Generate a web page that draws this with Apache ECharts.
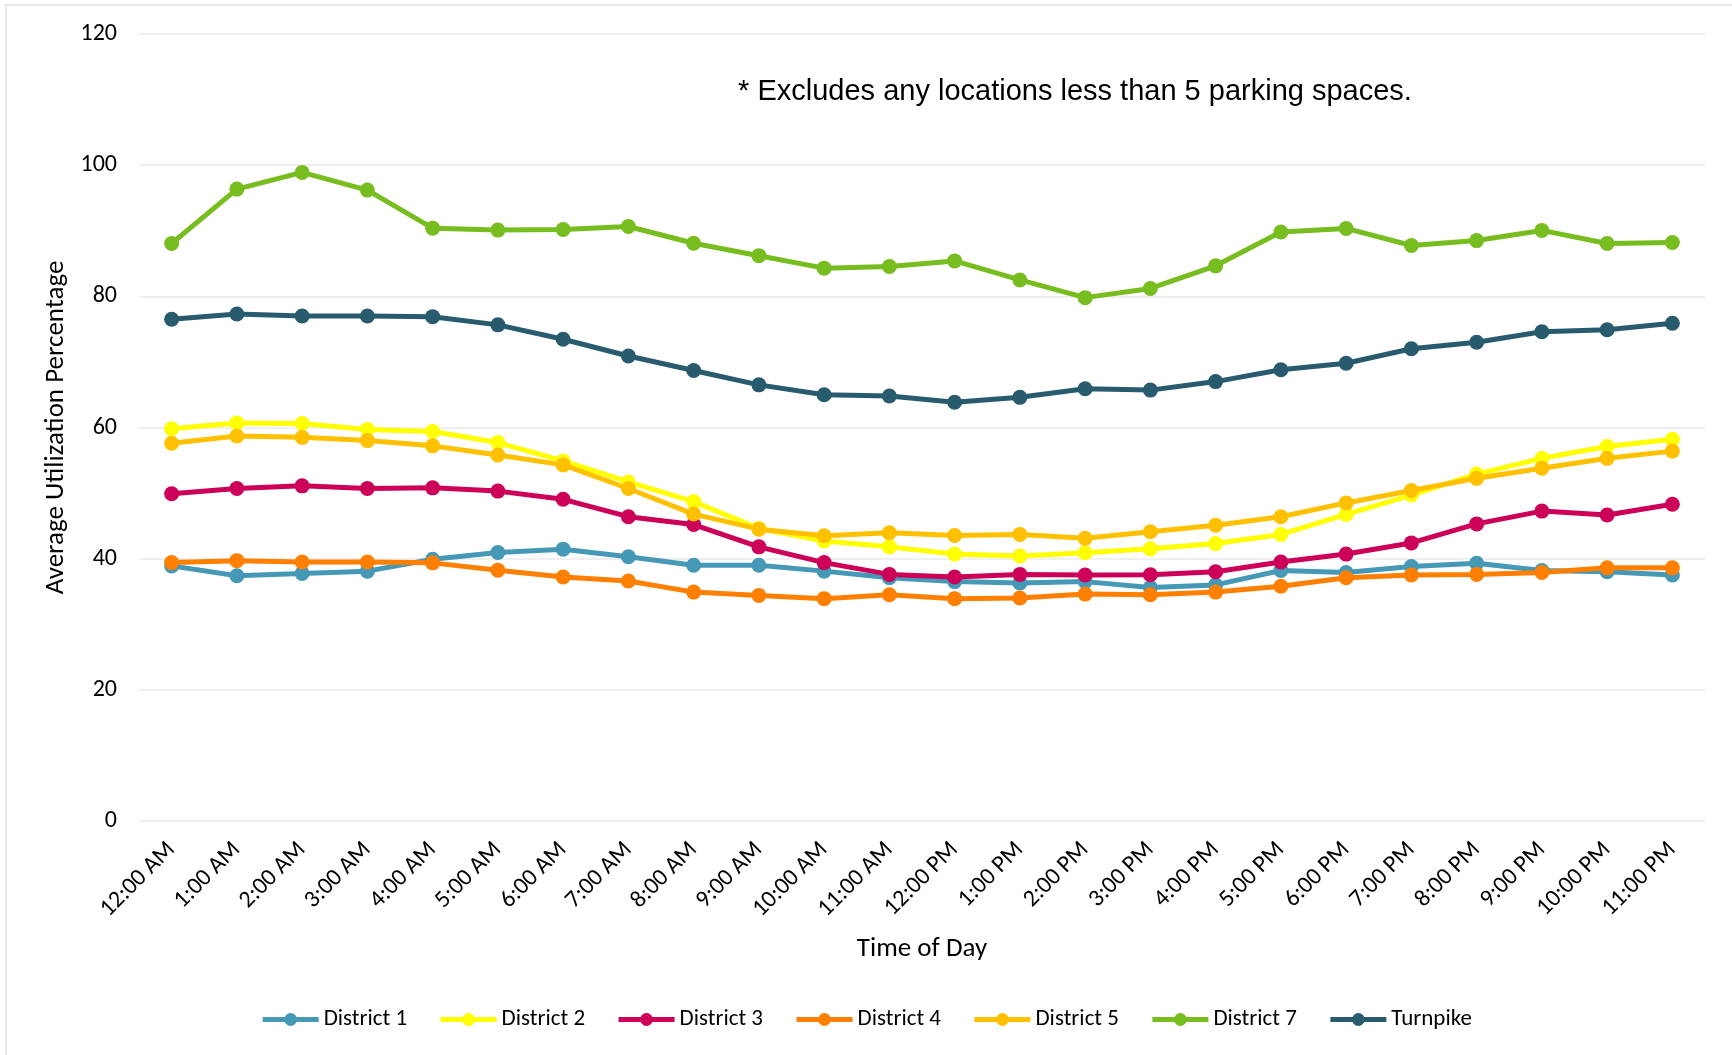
<!DOCTYPE html>
<html>
<head>
<meta charset="utf-8">
<title>Average Utilization by Time of Day</title>
<script src="https://cdn.jsdelivr.net/npm/echarts@6/dist/echarts.min.js"></script>
<style>
  html, body { margin: 0; padding: 0; background: #fff; }
  #chart { width: 1732px; height: 1055px; }
</style>
</head>
<body>
<div id="chart"></div>
<script>
// hour categories
const hours = [
  '12:00 AM', '1:00 AM', '2:00 AM', '3:00 AM', '4:00 AM', '5:00 AM',
  '6:00 AM', '7:00 AM', '8:00 AM', '9:00 AM', '10:00 AM', '11:00 AM',
  '12:00 PM', '1:00 PM', '2:00 PM', '3:00 PM', '4:00 PM', '5:00 PM',
  '6:00 PM', '7:00 PM', '8:00 PM', '9:00 PM', '10:00 PM', '11:00 PM'
];

// average utilization %
const district1 = [38.9, 37.4, 37.75, 38.1, 39.9, 40.95, 41.45, 40.3, 39.0, 39.0, 38.1, 37.1,
  36.5, 36.3, 36.5, 35.6, 36.0, 38.2, 37.9, 38.8, 39.3, 38.2, 38.0, 37.5];
const district2 = [59.8, 60.7, 60.6, 59.7, 59.4, 57.7, 54.9, 51.7, 48.7, 44.6, 42.7, 41.8,
  40.7, 40.4, 40.9, 41.5, 42.3, 43.7, 46.75, 49.7, 52.9, 55.3, 57.1, 58.2];
const district3 = [49.9, 50.7, 51.1, 50.7, 50.8, 50.3, 49.05, 46.4, 45.2, 41.8, 39.4, 37.6,
  37.2, 37.6, 37.5, 37.55, 38.0, 39.5, 40.7, 42.4, 45.3, 47.25, 46.65, 48.3];
const district4 = [39.4, 39.7, 39.5, 39.5, 39.36, 38.25, 37.2, 36.6, 34.9, 34.4, 33.9, 34.5,
  33.9, 34.0, 34.6, 34.5, 34.9, 35.8, 37.1, 37.5, 37.6, 37.9, 38.6, 38.6];
const district5 = [57.6, 58.7, 58.5, 58.0, 57.2, 55.8, 54.3, 50.7, 46.8, 44.5, 43.5, 43.95,
  43.55, 43.7, 43.1, 44.1, 45.1, 46.4, 48.5, 50.4, 52.25, 53.8, 55.3, 56.4];
const district7 = [88.05, 96.35, 98.9, 96.2, 90.4, 90.1, 90.2, 90.65, 88.1, 86.2, 84.3, 84.55,
  85.4, 82.5, 79.8, 81.2, 84.65, 89.8, 90.35, 87.75, 88.5, 90.05, 88.05, 88.2];
const turnpike = [76.5, 77.3, 77.0, 77.0, 76.9, 75.65, 73.45, 70.9, 68.7, 66.5, 65.0, 64.8,
  63.85, 64.6, 65.9, 65.7, 67.0, 68.8, 69.8, 72.0, 73.0, 74.6, 74.9, 75.9];

const seriesNames = ['District 1', 'District 2', 'District 3', 'District 4', 'District 5', 'District 7', 'Turnpike'];
const seriesData = [district1, district2, district3, district4, district5, district7, turnpike];
const colors = ['#4599B6', '#FFFF00', '#CC0058', '#FF8000', '#FFC000', '#78BD20', '#285B6E'];

const font = 'Carlito, Calibri, Lato, sans-serif';

const chart = echarts.init(document.getElementById('chart'));

const option = {
  animation: false,
  backgroundColor: '#fff',
  color: colors,
  grid: {
    left: 139,
    right: 27,
    top: 34,
    bottom: 234
  },
  graphic: [
    {
      // faint chart-area border (left and top edges only show)
      type: 'rect',
      shape: { x: 6, y: 5, width: 1800, height: 1100 },
      style: { fill: 'none', stroke: '#e8e8e8', lineWidth: 2 },
      silent: true
    },
    {
      type: 'text',
      x: 1075,
      y: 92,
      style: {
        text: '* Excludes any locations less than 5 parking spaces.',
        font: '29px "Liberation Sans", Arial, sans-serif',
        fill: '#000',
        textAlign: 'center',
        textVerticalAlign: 'middle'
      }
    }
  ],
  legend: {
    bottom: 19,
    left: 'center',
    itemWidth: 56,
    itemHeight: 16,
    itemGap: 31,
    lineStyle: { width: 5 },
    textStyle: { fontFamily: font, fontSize: 23, color: '#000' },
    data: seriesNames
  },
  xAxis: {
    type: 'category',
    data: hours,
    boundaryGap: true,
    name: 'Time of Day',
    nameLocation: 'middle',
    nameGap: 115,
    nameTextStyle: { fontFamily: font, fontSize: 27, color: '#000' },
    axisLine: { show: false },
    axisTick: { show: false },
    axisLabel: {
      rotate: 45,
      margin: 25,
      interval: 0,
      fontFamily: font,
      fontSize: 24,
      color: '#000'
    }
  },
  yAxis: {
    type: 'value',
    min: 0,
    max: 120,
    interval: 20,
    name: 'Average Utilization Percentage',
    nameLocation: 'middle',
    nameGap: 65,
    nameTextStyle: { fontFamily: font, fontSize: 27, color: '#000' },
    axisLine: { show: false },
    axisTick: { show: false },
    axisLabel: { margin: 22, fontFamily: font, fontSize: 24, color: '#000' },
    splitLine: { lineStyle: { color: '#efefef', width: 2 } }
  },
  series: seriesNames.map((name, i) => ({
    name: name,
    type: 'line',
    data: seriesData[i],
    symbol: 'circle',
    symbolSize: 15,
    lineStyle: { width: 5, color: colors[i] },
    itemStyle: { color: colors[i] }
  }))
};

chart.setOption(option);
</script>
</body>
</html>
